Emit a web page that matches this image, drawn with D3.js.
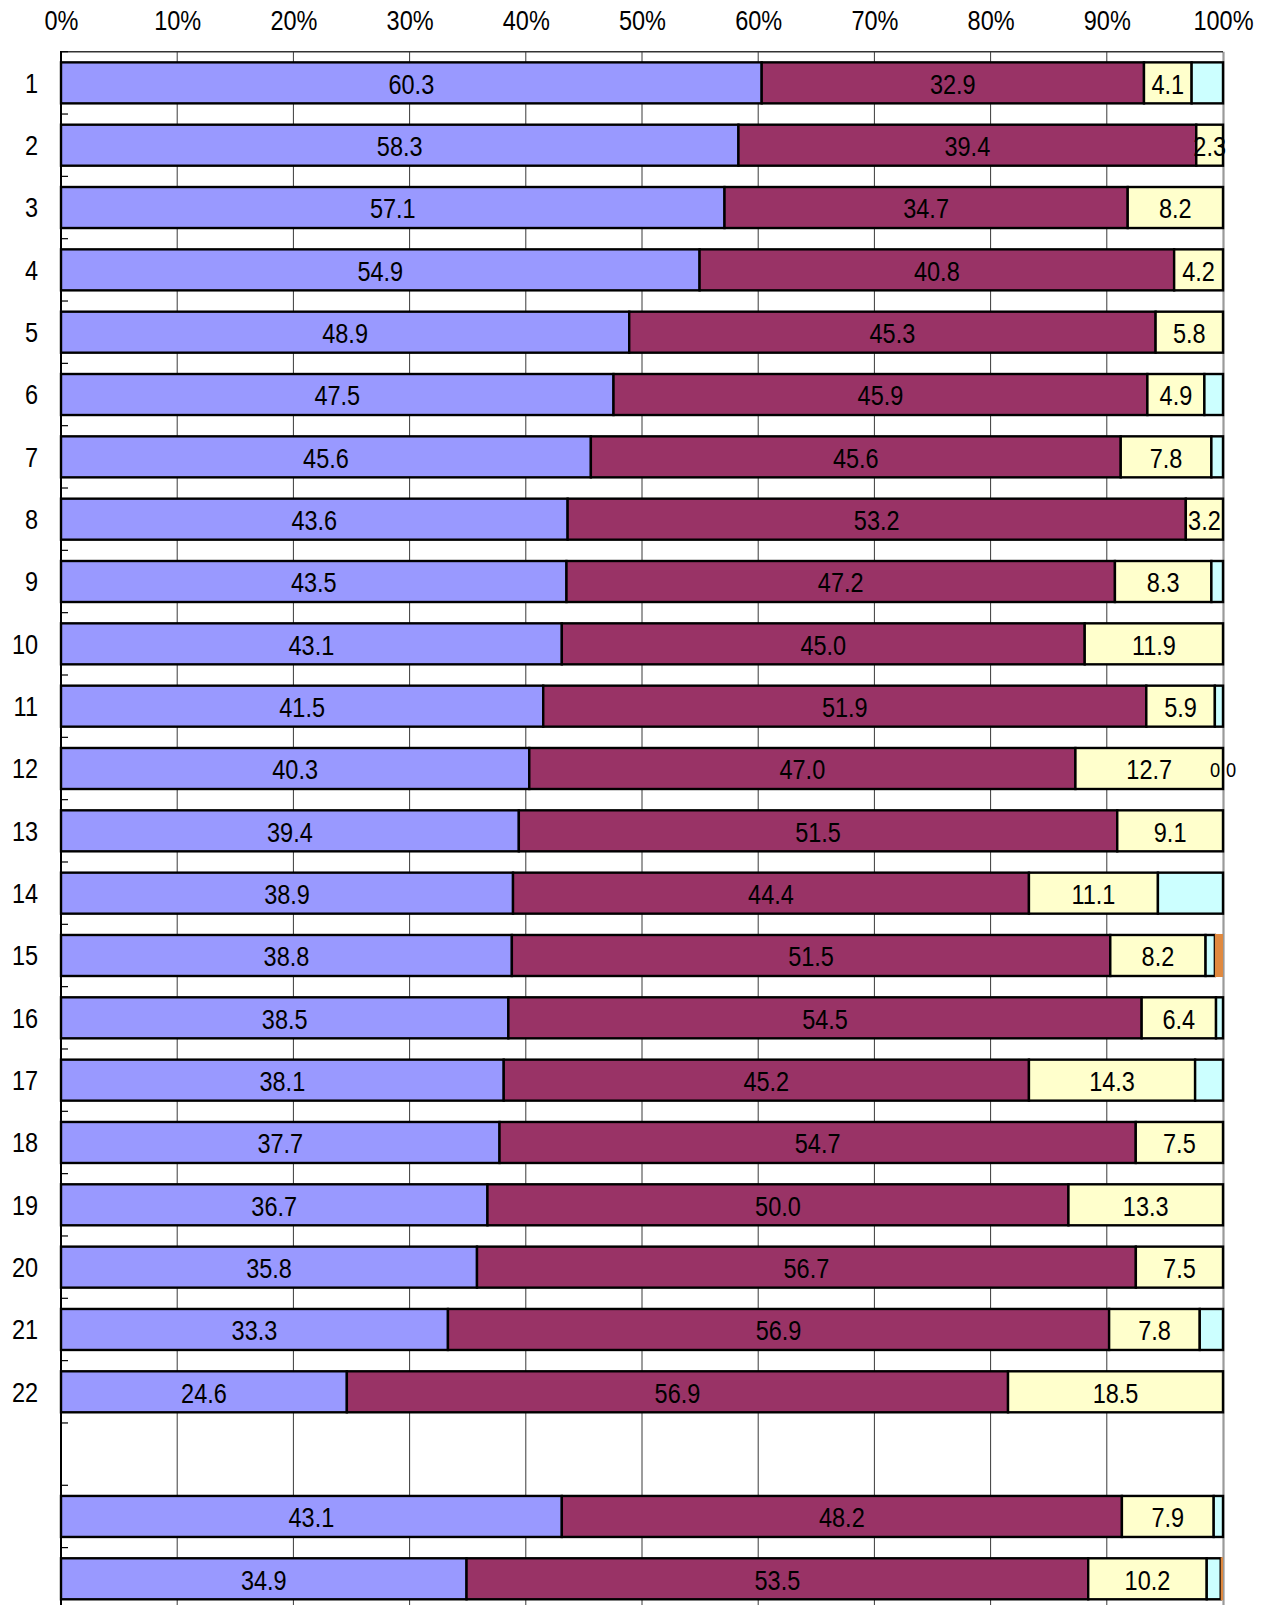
<!DOCTYPE html>
<html>
<head>
<meta charset="utf-8">
<script src="https://cdn.jsdelivr.net/npm/d3@7"></script>
<style>
  html, body { margin: 0; padding: 0; background: #fff; }
  svg { display: block; }
  text { font-family: "Liberation Sans", Arial, sans-serif; fill: #000; }
</style>
</head>
<body>
<svg id="chart" width="1270" height="1605"></svg>
<script>
// ---- data ----
const categories = ["1","2","3","4","5","6","7","8","9","10","11","12","13","14","15","16","17","18","19","20","21","22","","",""];
const seriesBlue   = [60.3,58.3,57.1,54.9,48.9,47.5,45.6,43.6,43.5,43.1,41.5,40.3,39.4,38.9,38.8,38.5,38.1,37.7,36.7,35.8,33.3,24.6,null,43.1,34.9];
const seriesMaroon = [32.9,39.4,34.7,40.8,45.3,45.9,45.6,53.2,47.2,45.0,51.9,47.0,51.5,44.4,51.5,54.5,45.2,54.7,50.0,56.7,56.9,56.9,null,48.2,53.5];
const seriesYellow = [4.1,2.3,8.2,4.2,5.8,4.9,7.8,3.2,8.3,11.9,5.9,12.7,9.1,11.1,8.2,6.4,14.3,7.5,13.3,7.5,7.8,18.5,null,7.9,10.2];
const seriesCyan   = [2.7,0,0,0,0,1.6,1.0,0,1.0,0,0.7,0,0,5.6,0.8,0.6,2.4,0,0,0,2.0,0,null,0.8,1.2];
const seriesOrange = [0,0,0,0,0,0,0,0,0,0,0,0,0,0,0.7,0,0,0,0,0,0,0,null,0,0.2];
const labeledSeries = ["blue","maroon","yellow"];
const zeroLabelRows = ["12"];      // rows where the zero-valued cyan / orange segments carry a "0" label
const xTicks = [0,10,20,30,40,50,60,70,80,90,100];

(function () {
const seriesDefs = [
  {key:"blue",   values: seriesBlue,   color:"#9999FF"},
  {key:"maroon", values: seriesMaroon, color:"#993366"},
  {key:"yellow", values: seriesYellow, color:"#FFFFCC"},
  {key:"cyan",   values: seriesCyan,   color:"#CCFFFF"},
  {key:"orange", values: seriesOrange, color:"#E0893F"}
];

// ---- layout ----
const pLeft = 61, pRight = 1223, pTop = 51.7, step = 62.33;
const pBottom = pTop + step * categories.length;
const fs = 27, sx = 0.87;
const svg = d3.select("#chart");

const x = d3.scaleLinear().domain([0,100]).range([pLeft, pRight]);
const y = d3.scaleBand().domain(d3.range(categories.length))
  .range([pTop, pBottom]).paddingInner(0.342).paddingOuter(0.171);

// rows table (normalised to 100%)
const rows = categories.map((c, i) => {
  const vals = seriesDefs.map(s => s.values[i]);
  if (vals[0] === null) return {i, cat:c, segs:[]};
  const total = d3.sum(vals);
  let acc = 0;
  const segs = seriesDefs.map((s, k) => {
    const v = vals[k];
    const x0 = acc / total * 100; acc += v; const x1 = acc / total * 100;
    return {key:s.key, color:s.color, v, x0, x1};
  });
  return {i, cat:c, segs};
});

// gridlines
svg.append("g").selectAll("line").data(xTicks.filter(d => d > 0 && d < 100)).join("line")
  .attr("x1", d => x(d)).attr("x2", d => x(d))
  .attr("y1", pTop).attr("y2", pBottom)
  .attr("stroke", "#3a3a3a").attr("stroke-width", 1);

// right border (gray)
svg.append("line").attr("x1", x(100) + 0.5).attr("x2", x(100) + 0.5)
  .attr("y1", pTop).attr("y2", pBottom).attr("stroke", "#9a9a9a").attr("stroke-width", 2.2);

// top border
svg.append("line").attr("x1", pLeft).attr("x2", x(100)).attr("y1", pTop).attr("y2", pTop)
  .attr("stroke", "#333").attr("stroke-width", 1.6);

// bars
const bars = svg.append("g");
rows.forEach(r => {
  const g = bars.append("g");
  r.segs.filter(s => s.v > 0).forEach(s => {
    const isOrange = s.key === "orange";
    g.append("rect")
      .attr("x", x(s.x0)).attr("width", x(s.x1) - x(s.x0))
      .attr("y", y(r.i) - (isOrange ? 1 : 0))
      .attr("height", y.bandwidth() + (isOrange ? 2 : 0))
      .attr("fill", s.color)
      .attr("stroke", isOrange ? "none" : "#000")
      .attr("stroke-width", 2.4);
  });
});

// labels
const labels = svg.append("g");
function addText(g, cx, cy, txt, size) {
  g.append("text")
    .attr("transform", `translate(${cx},${cy}) scale(${sx},1)`)
    .attr("text-anchor", "middle")
    .attr("y", size * 0.36)
    .attr("font-size", size)
    .text(txt);
}
rows.forEach(r => {
  const cy = y(r.i) + y.bandwidth() / 2;
  r.segs.forEach(s => {
    if (labeledSeries.includes(s.key) && s.v > 0) {
      addText(labels, x((s.x0 + s.x1) / 2), cy + 1, s.v.toFixed(1), fs);
    }
  });
  if (zeroLabelRows.includes(r.cat)) {
    const cyan = r.segs.find(s => s.key === "cyan");
    const orange = r.segs.find(s => s.key === "orange");
    addText(labels, x(cyan.x0) - 8, cy + 1, String(cyan.v), 21);
    addText(labels, x(orange.x0) + 8, cy + 1, String(orange.v), 21);
  }
});

// top axis labels
const xAxis = d3.axisTop(x).tickValues(xTicks).tickFormat(d => d + "%").tickSize(0).tickPadding(0);
const gx = svg.append("g").attr("transform", "translate(0,30)").call(xAxis);
gx.select(".domain").remove();
gx.selectAll(".tick text")
  .attr("font-family", "Liberation Sans, Arial, sans-serif")
  .attr("font-size", fs).attr("fill", "#000")
  .attr("dy", 0).attr("y", 0)
  .attr("transform", `scale(${sx},1)`);

// left axis: category labels
const yAxis = d3.axisLeft(y).tickFormat(i => categories[i]).tickSize(0).tickPadding(0);
const gy = svg.append("g").attr("transform", "translate(38,0)").call(yAxis);
gy.select(".domain").remove();
gy.selectAll(".tick text")
  .attr("font-family", "Liberation Sans, Arial, sans-serif")
  .attr("font-size", fs).attr("fill", "#000")
  .attr("dy", "0.36em")
  .attr("transform", `scale(${sx},1)`)
  .attr("x", 0);

// left axis line and boundary ticks
const boundaries = d3.range(categories.length + 1).map(i => pTop + i * y.step());
svg.append("g").selectAll("line").data(boundaries).join("line")
  .attr("x1", pLeft).attr("x2", pLeft + 7)
  .attr("y1", d => d).attr("y2", d => d)
  .attr("stroke", "#000").attr("stroke-width", 1.2);
svg.append("line").attr("x1", pLeft).attr("x2", pLeft).attr("y1", pTop - 0.8).attr("y2", pBottom)
  .attr("stroke", "#000").attr("stroke-width", 2);
})();
</script>
</body>
</html>
